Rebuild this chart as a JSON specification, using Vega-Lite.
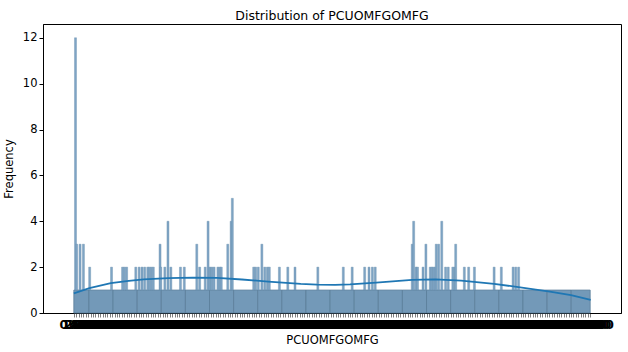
{
  "$schema": "https://vega.github.io/schema/vega-lite/v6.json",
  "autosize": "none",
  "width": 578,
  "height": 289,
  "padding": {"left": 43, "top": 24, "right": 7, "bottom": 39},
  "background": "white",
  "config": {
    "font": "DejaVu Sans",
    "view": {"stroke": "black", "strokeWidth": 1},
    "axis": {"grid": false, "domainColor": "black", "tickColor": "black", "labelColor": "black", "titleColor": "black", "titleFontWeight": "normal", "labelFont": "DejaVu Sans", "titleFont": "DejaVu Sans"}
  },
  "title": {"text": "Distribution of PCUOMFGOMFG", "fontSize": 12.5, "fontWeight": "normal", "font": "DejaVu Sans", "color": "black", "offset": 2},
  "datasets": {
    "blocks": [
      {"a": 0, "b": 6.3, "n": 1}, {"a": 6.3, "b": 16.34, "n": 1}, {"a": 16.34, "b": 26.38, "n": 1},
      {"a": 26.38, "b": 36.42, "n": 1}, {"a": 36.42, "b": 46.46, "n": 1}, {"a": 46.46, "b": 56.5, "n": 1},
      {"a": 56.5, "b": 66.54, "n": 1}, {"a": 66.54, "b": 76.58, "n": 1}, {"a": 76.58, "b": 86.62, "n": 1},
      {"a": 86.62, "b": 96.66, "n": 1}, {"a": 96.66, "b": 106.7, "n": 1}, {"a": 106.7, "b": 116.74, "n": 1},
      {"a": 116.74, "b": 126.78, "n": 1}, {"a": 126.78, "b": 136.82, "n": 1}, {"a": 136.82, "b": 146.86, "n": 1},
      {"a": 146.86, "b": 156.9, "n": 1}, {"a": 156.9, "b": 166.94, "n": 1}, {"a": 166.94, "b": 176.98, "n": 1},
      {"a": 176.98, "b": 187.02, "n": 1}, {"a": 187.02, "b": 197.06, "n": 1}, {"a": 197.06, "b": 207.1, "n": 1},
      {"a": 207.1, "b": 215, "n": 1}
    ],
    "spikes": [
      {"v": 0.7, "n": 12}, {"v": 1.2, "n": 3}, {"v": 2.6, "n": 3}, {"v": 4.0, "n": 3}, {"v": 6.6, "n": 2},
      {"v": 15.7, "n": 2}, {"v": 20.3, "n": 2}, {"v": 21.1, "n": 2}, {"v": 22.0, "n": 2},
      {"v": 25.8, "n": 2}, {"v": 27.2, "n": 2}, {"v": 28.4, "n": 2}, {"v": 29.5, "n": 2},
      {"v": 30.8, "n": 2}, {"v": 31.5, "n": 2}, {"v": 32.3, "n": 2}, {"v": 33.1, "n": 2},
      {"v": 35.9, "n": 3}, {"v": 36.2, "n": 2}, {"v": 37.9, "n": 2}, {"v": 39.2, "n": 4}, {"v": 40.4, "n": 2},
      {"v": 44.4, "n": 2}, {"v": 46.0, "n": 2}, {"v": 51.2, "n": 3}, {"v": 52.4, "n": 2},
      {"v": 54.7, "n": 2}, {"v": 55.9, "n": 4}, {"v": 56.7, "n": 2}, {"v": 57.5, "n": 2}, {"v": 58.4, "n": 2},
      {"v": 60.0, "n": 2}, {"v": 60.8, "n": 2}, {"v": 61.4, "n": 2},
      {"v": 64.1, "n": 3}, {"v": 65.5, "n": 4}, {"v": 66.0, "n": 5},
      {"v": 74.9, "n": 2}, {"v": 75.7, "n": 2}, {"v": 76.8, "n": 2}, {"v": 78.3, "n": 3}, {"v": 79.5, "n": 2},
      {"v": 80.6, "n": 2}, {"v": 81.4, "n": 2}, {"v": 85.6, "n": 2}, {"v": 89.1, "n": 2}, {"v": 92.1, "n": 2},
      {"v": 101.6, "n": 2}, {"v": 112.2, "n": 2}, {"v": 115.9, "n": 2}, {"v": 121.1, "n": 2}, {"v": 122.9, "n": 2},
      {"v": 124.3, "n": 2}, {"v": 125.5, "n": 2},
      {"v": 140.9, "n": 3}, {"v": 141.5, "n": 4}, {"v": 142.5, "n": 2}, {"v": 143.1, "n": 2}, {"v": 145.4, "n": 2},
      {"v": 146.6, "n": 3}, {"v": 148.4, "n": 2}, {"v": 149.1, "n": 2}, {"v": 149.8, "n": 2}, {"v": 150.5, "n": 2},
      {"v": 150.9, "n": 3}, {"v": 151.9, "n": 3}, {"v": 153.2, "n": 4}, {"v": 154.8, "n": 2}, {"v": 155.9, "n": 2},
      {"v": 157.8, "n": 2}, {"v": 158.6, "n": 2}, {"v": 159.0, "n": 3}, {"v": 162.6, "n": 2}, {"v": 164.4, "n": 2},
      {"v": 166.8, "n": 2}, {"v": 175.0, "n": 2}, {"v": 178.0, "n": 2}, {"v": 182.9, "n": 2}, {"v": 184.0, "n": 2},
      {"v": 185.2, "n": 2}
    ],
    "kde": [
      {"v": 0, "d": 0.86}, {"v": 6.5, "d": 1.08}, {"v": 15.4, "d": 1.3}, {"v": 22.9, "d": 1.4},
      {"v": 29.1, "d": 1.47}, {"v": 39.3, "d": 1.52}, {"v": 49.5, "d": 1.54}, {"v": 59.7, "d": 1.53},
      {"v": 70.0, "d": 1.46}, {"v": 80.9, "d": 1.37}, {"v": 94.5, "d": 1.27}, {"v": 101.3, "d": 1.24},
      {"v": 108.8, "d": 1.23}, {"v": 115.0, "d": 1.25}, {"v": 125.9, "d": 1.32}, {"v": 135.4, "d": 1.4},
      {"v": 140.9, "d": 1.44}, {"v": 150.5, "d": 1.47}, {"v": 161.3, "d": 1.41}, {"v": 175.0, "d": 1.27},
      {"v": 187.3, "d": 1.1}, {"v": 198.2, "d": 0.93}, {"v": 207.0, "d": 0.78}, {"v": 215.2, "d": 0.57}
    ]
  },
  "encoding": {
    "x": {"type": "quantitative", "scale": {"domain": [-10.75, 225.75], "nice": false, "zero": false},
      "axis": {"title": "PCUOMFGOMFG", "titleFontSize": 11.5, "tickCount": 236, "labelOverlap": false, "labelFontSize": 12, "labelFontWeight": "bold", "labelFlush": false, "tickSize": 4,
        "labelExpr": "datum.value < 0 || datum.value > 215 ? '' : format(datum.value, '.2f')",
        "tickOpacity": {"condition": {"test": "datum.value < 0 || datum.value > 215", "value": 0}, "value": 0.5},
        "titlePadding": 4}},
    "y": {"type": "quantitative", "scale": {"domain": [0, 12.6], "nice": false},
      "axis": {"title": "Frequency", "titleFontSize": 11.5, "values": [0, 2, 4, 6, 8, 10, 12], "labelFontSize": 11.5, "tickSize": 4, "titlePadding": 8}}
  },
  "layer": [
    {
      "data": {"name": "blocks"},
      "mark": {"type": "bar", "color": "#7399b8", "stroke": "#5a7d99", "strokeWidth": 0.8},
      "encoding": {"x": {"field": "a", "type": "quantitative"}, "x2": {"field": "b"}, "y": {"field": "n", "type": "quantitative"}, "y2": {"datum": 0}}
    },
    {
      "data": {"name": "spikes"},
      "mark": {"type": "bar", "color": "#7fa5c5", "size": 2, "stroke": "#6a8fae", "strokeWidth": 0.4},
      "encoding": {"x": {"field": "v", "type": "quantitative"}, "y": {"field": "n", "type": "quantitative"}, "y2": {"datum": 1}}
    },
    {
      "data": {"name": "kde"},
      "mark": {"type": "line", "color": "#1f77b4", "strokeWidth": 1.8},
      "encoding": {"x": {"field": "v", "type": "quantitative"}, "y": {"field": "d", "type": "quantitative"}}
    }
  ]
}
